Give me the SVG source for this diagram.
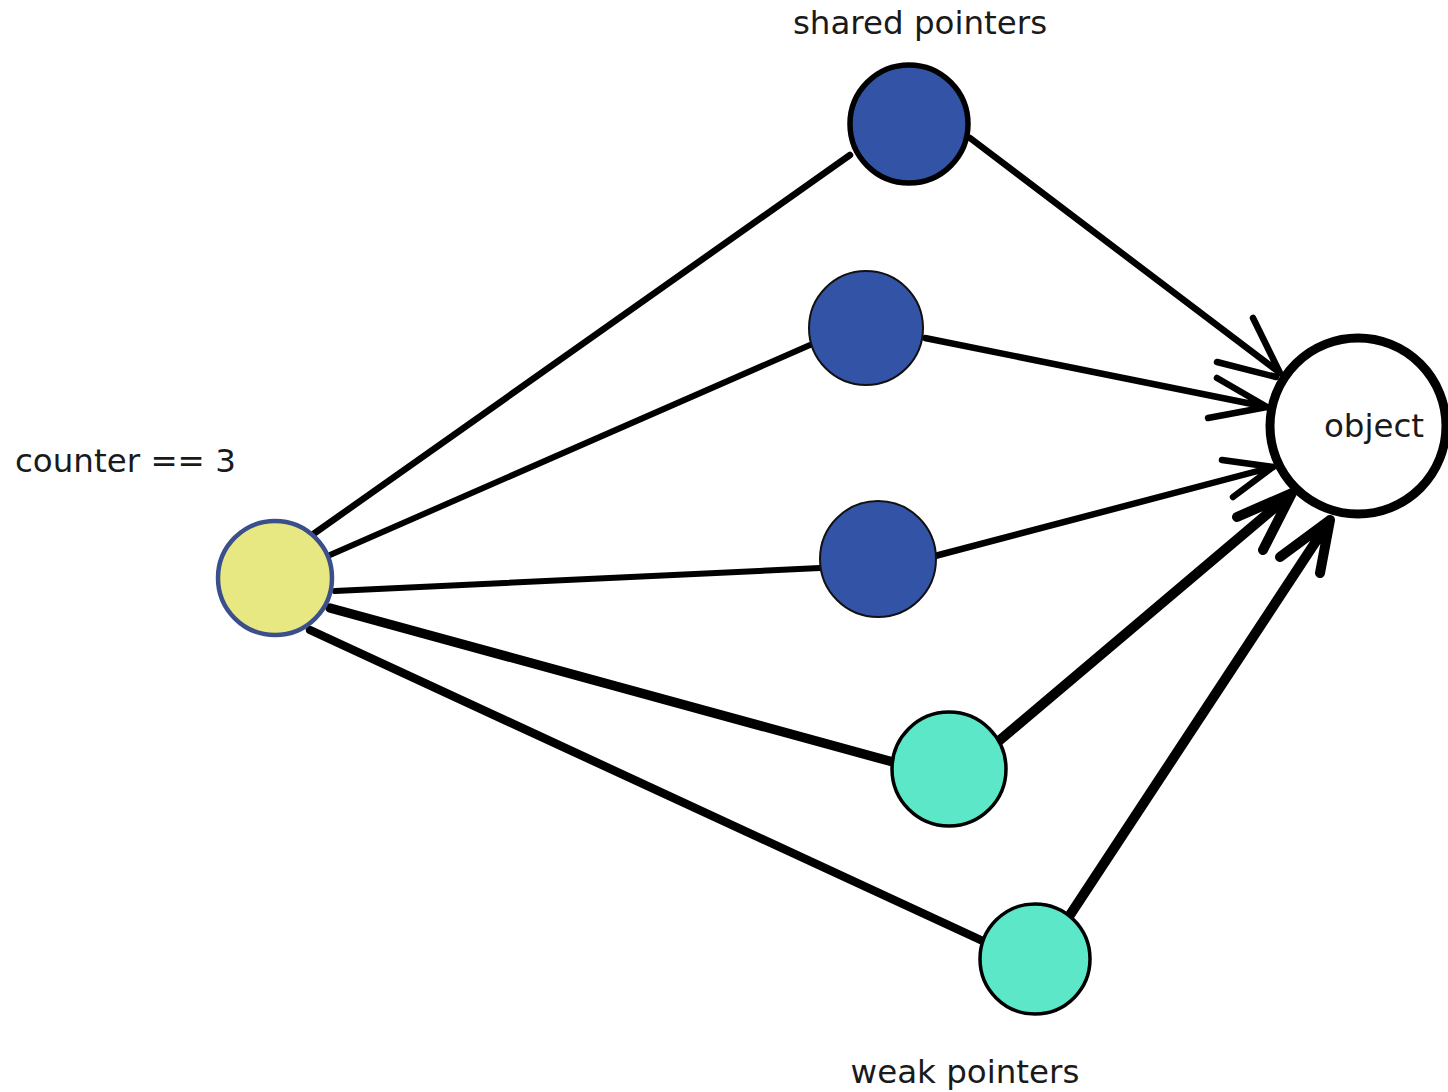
<svg xmlns="http://www.w3.org/2000/svg" width="1448" height="1092" viewBox="0 0 1448 1092">
<style>
.lbl{font-family:"DejaVu Sans","Liberation Sans",sans-serif;font-size:32.5px;fill:#1a1a1a}
.e{stroke:#000;fill:none;stroke-linecap:round;stroke-linejoin:round}
.blue{fill:#3253a6}
.teal{fill:#5ce8c8;stroke:#000;stroke-width:3.5}
</style>
<rect width="1448" height="1092" fill="#fff"/>
<g id="connectors">
<path class="e" stroke-width="6.5" d="M312 535 L850 155"/>
<path class="e" stroke-width="6" d="M330 555 L810 345"/>
<path class="e" stroke-width="6" d="M335 591 L820 568"/>
<path class="e" stroke-width="9.5" d="M330 608 L893 762"/>
<path class="e" stroke-width="8.5" d="M310 630 L985 942"/>
<path class="e" stroke-width="6.5" d="M970 138 L1280 373 M1253 318 L1280 373 M1217 362 L1276 377"/>
<path class="e" stroke-width="6.5" d="M925 338 L1267 407 M1217 378 L1267 407 M1208 418 L1267 407"/>
<path class="e" stroke-width="6.5" d="M935 556 L1273 467 M1222 460 L1273 467 M1233 497 L1273 467"/>
<path class="e" stroke-width="10" d="M1000 740 L1292 493 M1237 517 L1292 493 M1263 550 L1292 493"/>
<path class="e" stroke-width="10" d="M1070 915 L1330 520 M1280 557 L1330 520 M1320 573 L1330 520"/>
</g>
<g id="counter">
<circle cx="275" cy="578" r="57" fill="#e8e882" stroke="#3b4f8c" stroke-width="4.5"/>
<text class="lbl" x="15" y="472">counter == 3</text>
</g>
<g id="shared1">
<circle class="blue" cx="909" cy="124" r="59" stroke="#000" stroke-width="5.5"/>
</g>
<g id="shared2">
<circle class="blue" cx="866" cy="328" r="57" stroke="#111" stroke-width="2"/>
</g>
<g id="shared3">
<circle class="blue" cx="878" cy="559" r="58" stroke="#111" stroke-width="2"/>
</g>
<g id="weak1">
<circle class="teal" cx="949" cy="769" r="57"/>
</g>
<g id="weak2">
<circle class="teal" cx="1035" cy="959" r="55"/>
</g>
<g id="object">
<circle cx="1358" cy="426" r="88" fill="#fff" stroke="#000" stroke-width="9"/>
<text class="lbl" x="1374" y="437" text-anchor="middle">object</text>
</g>
<text class="lbl" x="920" y="34" text-anchor="middle">shared pointers</text>
<text class="lbl" x="965" y="1083" text-anchor="middle">weak pointers</text>
</svg>
